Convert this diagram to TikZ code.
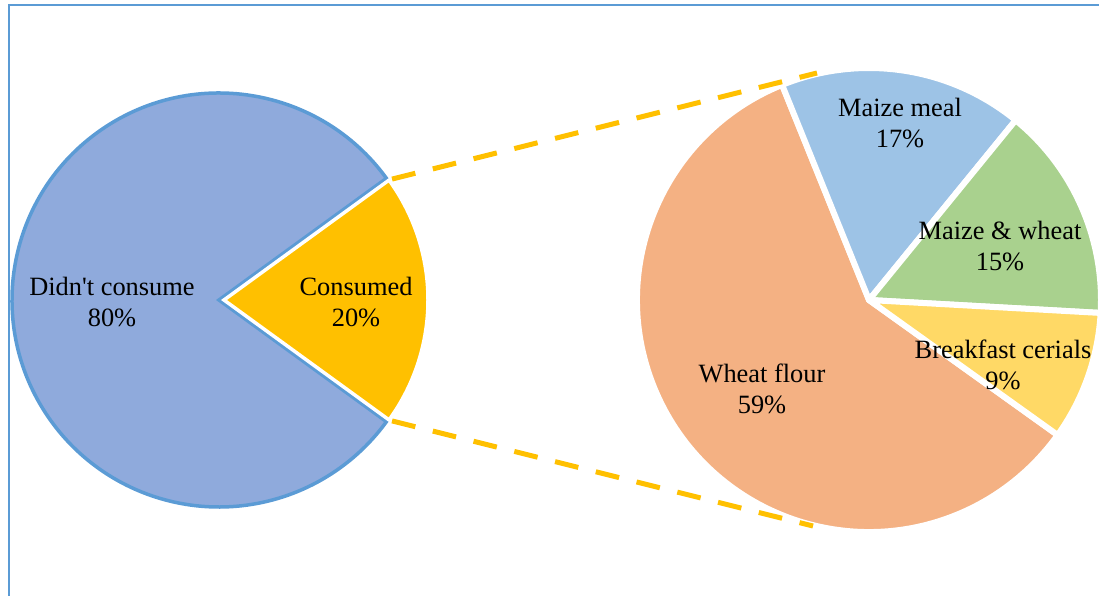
\documentclass[tikz,border=0pt]{standalone}
\usepackage{fontspec}
\setmainfont{Liberation Serif}
\begin{document}
\begin{tikzpicture}[x=1pt,y=1pt,
  lbl/.style={align=center,inner sep=0pt,font=\fontsize{26.4}{31.5}\selectfont},
  rslice/.style={draw=white,line width=6pt,line join=round},
  zoomline/.style={draw=gold,line width=5pt,dash pattern=on 24pt off 18pt}]
\definecolor{frame}{HTML}{5B9BD5}
\definecolor{blueA}{HTML}{8FAADC}
\definecolor{blueB}{HTML}{5B9BD5}
\definecolor{gold}{HTML}{FFC000}
\definecolor{wheat}{HTML}{F4B183}
\definecolor{maize}{HTML}{9DC3E6}
\definecolor{mixw}{HTML}{A9D18E}
\definecolor{brk}{HTML}{FFD966}
\useasboundingbox (0,0) rectangle (1099,595);
\clip (0,0) rectangle (1099,595);
% frame
\draw[frame,line width=2.2pt] (9,-20) rectangle (1130,590);
% left pie
\coordinate (lc) at (219,295);
\coordinate (cc) at (224,295);
\fill[blueA] (lc) -- ++(36:207) arc (36:324:207) -- cycle;
\draw[blueB,line width=3.5pt,line join=miter] (lc) -- ++(36:207) arc (36:324:207) -- cycle;
\filldraw[fill=gold,draw=white,line width=3.5pt] (cc) -- ++(-36:204) coordinate (cb) arc (-36:36:204) coordinate (ct) -- cycle;
% right pie
\coordinate (rc) at (869,295);
\filldraw[rslice,fill=wheat] (rc) -- ++(112:232) arc (112:324.4:232) -- cycle;
\filldraw[rslice,fill=maize] (rc) -- ++(50.8:232) arc (50.8:112:232) -- cycle;
\filldraw[rslice,fill=mixw] (rc) -- ++(-3.2:232) arc (-3.2:50.8:232) -- cycle;
\filldraw[rslice,fill=brk] (rc) -- ++(-35.6:232) arc (-35.6:-3.2:232) -- cycle;
% connectors
\coordinate (rt) at (817,522);
\coordinate (rb) at (813,69);
\draw[zoomline] (ct) ++(3,1) -- (rt);
\draw[zoomline] (cb) ++(3,-1) -- (rb);
% labels
\node[lbl] (l1) at (112,293) {Didn\textquotesingle t consume\\80\%};
\node[lbl] (l2) at (356,293) {Consumed\\20\%};
\node[lbl] (l3) at (900,472) {Maize meal\\17\%};
\node[lbl] (l4) at (1000,349) {Maize \& wheat\\15\%};
\node[lbl] (l5) at (1003,230) {Breakfast cerials\\9\%};
\node[lbl] (l6) at (762,206) {Wheat flour\\59\%};
\end{tikzpicture}
\end{document}
